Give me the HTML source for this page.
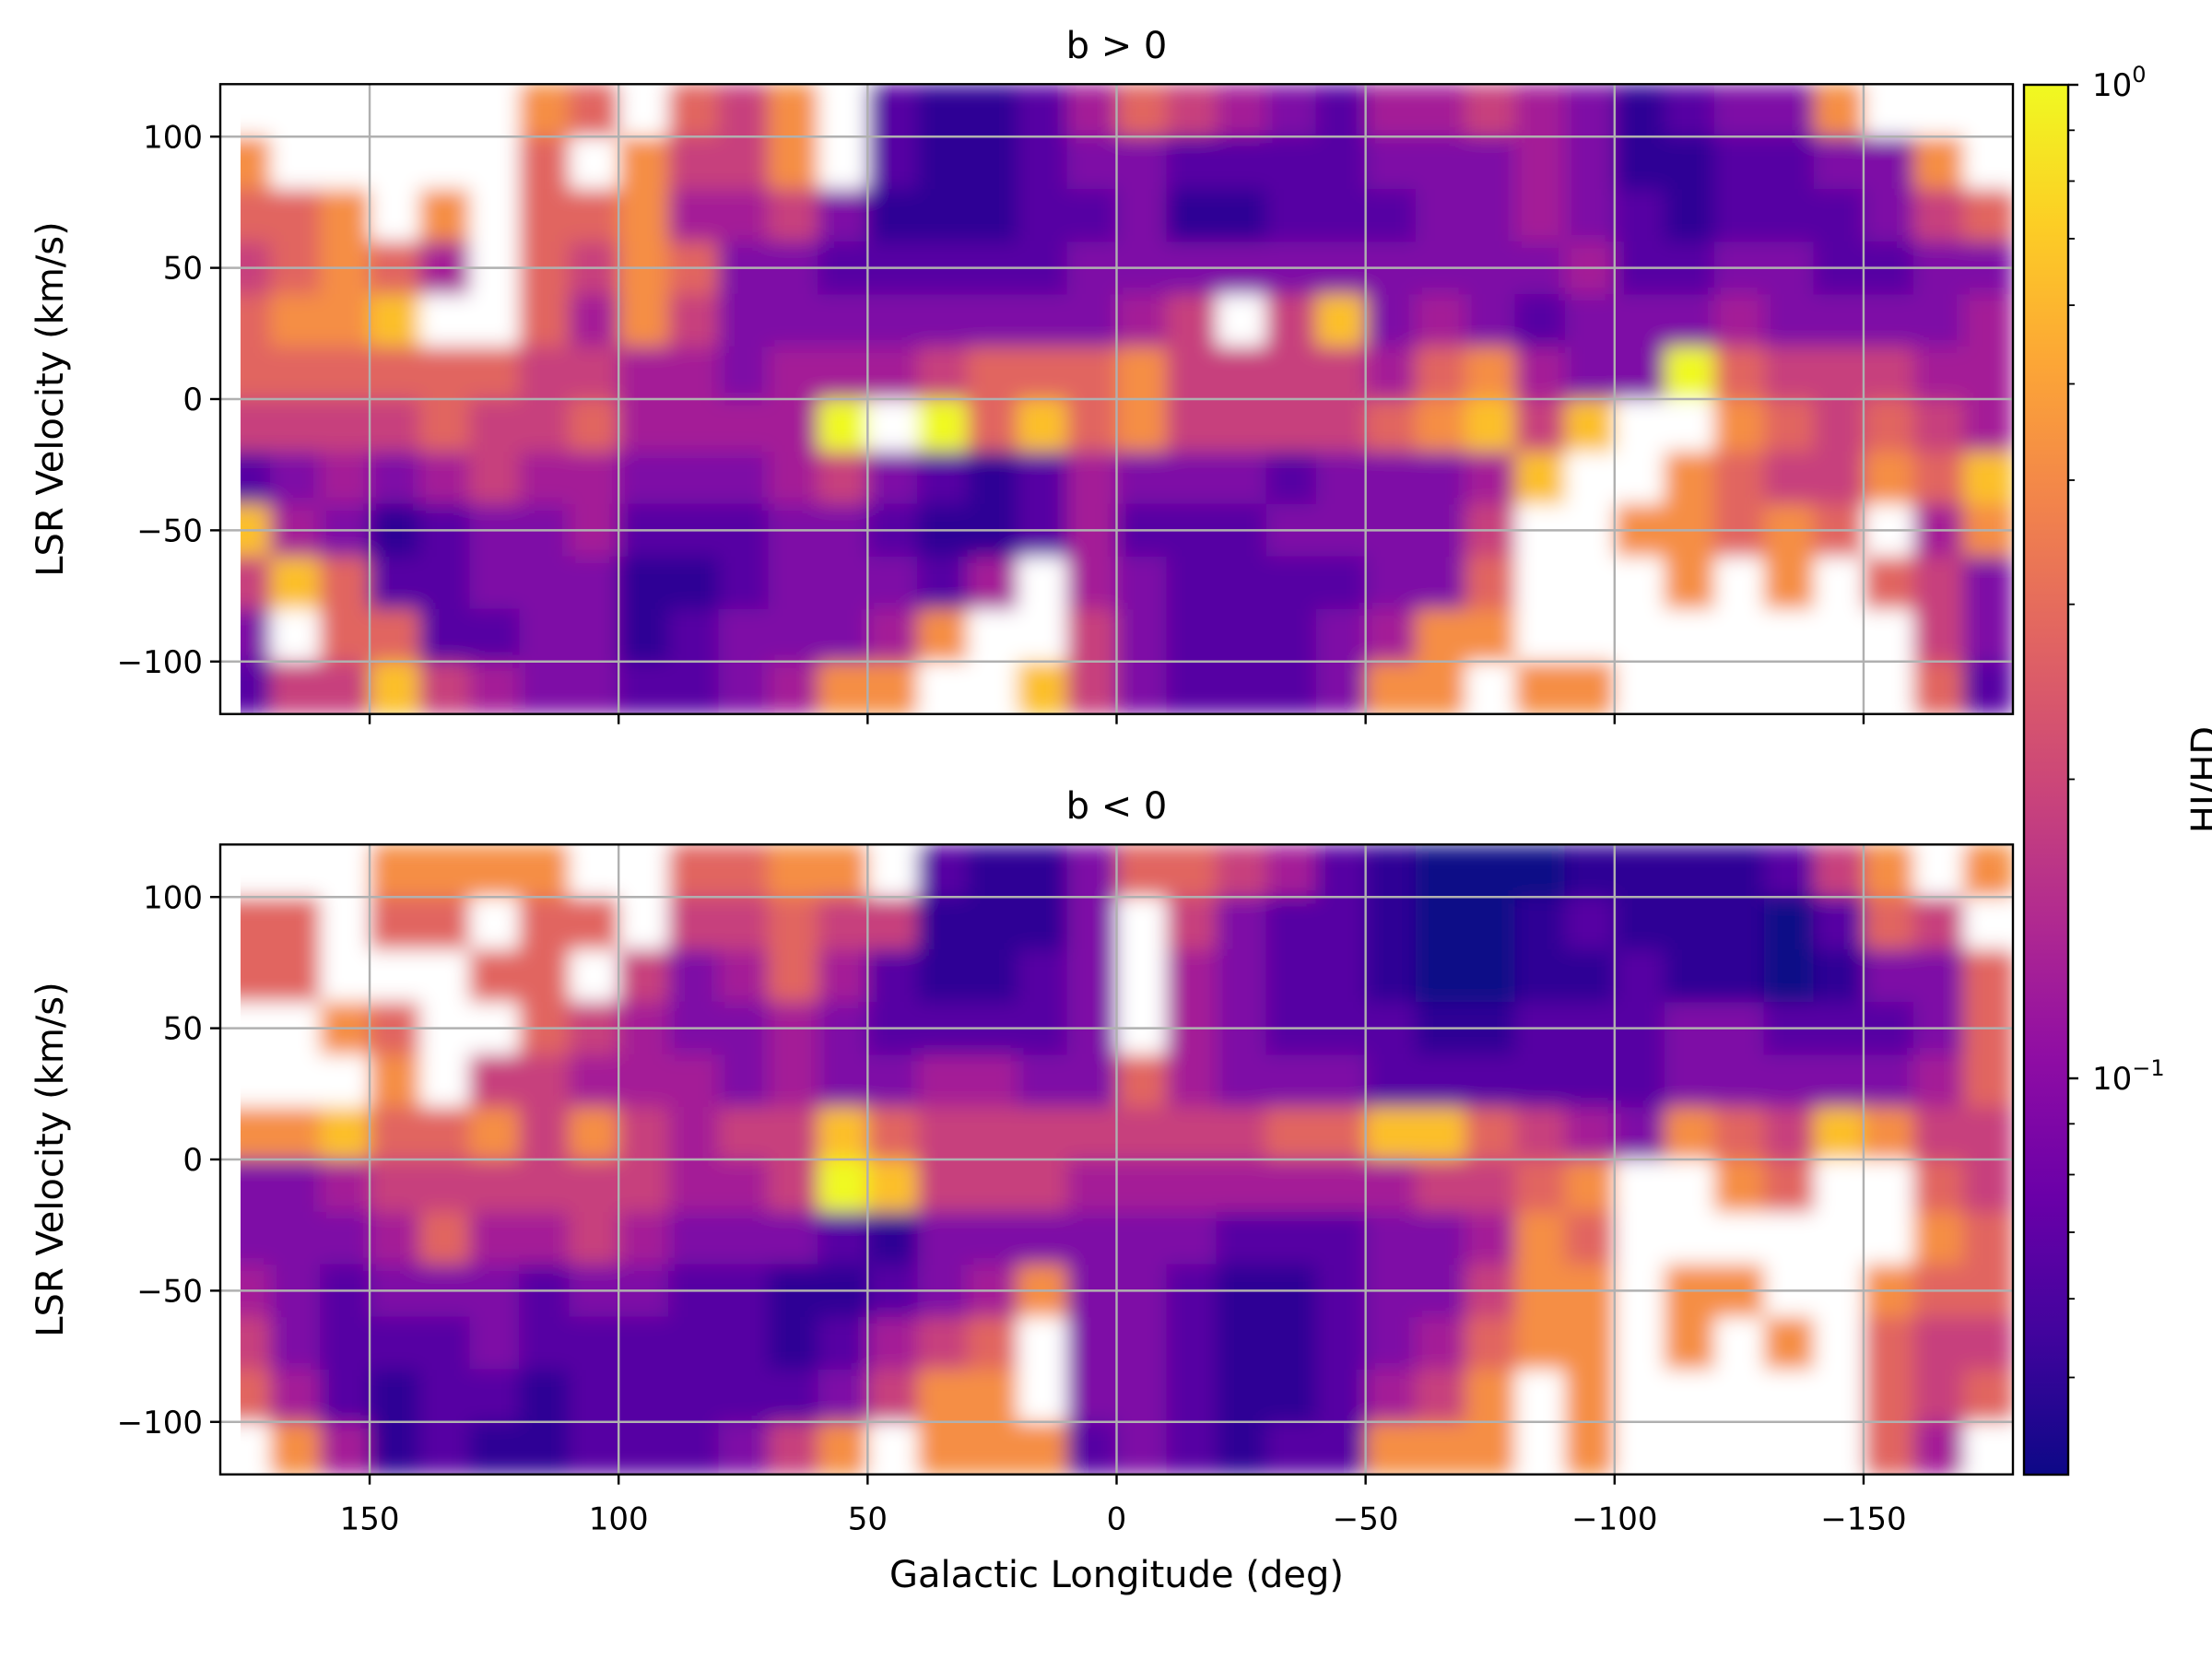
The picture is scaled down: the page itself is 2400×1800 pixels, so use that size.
<!DOCTYPE html>
<html>
<head>
<meta charset="utf-8">
<style>
  html,body{margin:0;padding:0;background:#fff;}
  svg{display:block;}
  text{font-family:"DejaVu Sans","Liberation Sans",sans-serif;fill:#000;}
</style>
</head>
<body>
<svg id="fig" xmlns="http://www.w3.org/2000/svg" width="2400" height="1800" viewBox="0 0 2400 1800">
  <defs>
    <filter id="soft" x="0" y="0" width="1" height="1" filterUnits="objectBoundingBox">
      <feGaussianBlur stdDeviation="11" edgeMode="duplicate"/>
    </filter>
    <clipPath id="clipU"><rect x="239" y="91.3" width="1945" height="683.4"/></clipPath>
    <clipPath id="clipL"><rect x="239" y="916.3" width="1945" height="683.4"/></clipPath>
    <linearGradient id="plasma" x1="0" y1="1" x2="0" y2="0">
      <stop offset="0" stop-color="#0d0887"/>
      <stop offset="0.1" stop-color="#41049d"/>
      <stop offset="0.2" stop-color="#6a00a8"/>
      <stop offset="0.3" stop-color="#8f0da4"/>
      <stop offset="0.4" stop-color="#b12a90"/>
      <stop offset="0.5" stop-color="#cc4778"/>
      <stop offset="0.6" stop-color="#e16462"/>
      <stop offset="0.7" stop-color="#f2844b"/>
      <stop offset="0.8" stop-color="#fca636"/>
      <stop offset="0.9" stop-color="#fcce25"/>
      <stop offset="1" stop-color="#f0f921"/>
    </linearGradient>
  </defs>
  <g id="upper-panel">
    <g clip-path="url(#clipU)"><g id="heatU" filter="url(#soft)"></g>
      <rect x="239" y="91.3" width="22" height="683.4" fill="#fff"/></g>
    <g id="gridU"></g>
    <rect x="239" y="91.3" width="1945" height="683.4" fill="none" stroke="#000" stroke-width="2.4"/>
    <g id="ticksU"></g>
    <text x="1211.5" y="63" font-size="40" text-anchor="middle">b &gt; 0</text>
    <text x="0" y="0" font-size="40" text-anchor="middle" transform="translate(68,433) rotate(-90)">LSR Velocity (km/s)</text>
  </g>
  <g id="lower-panel">
    <g clip-path="url(#clipL)"><g id="heatL" filter="url(#soft)"></g>
      <rect x="239" y="916.3" width="22" height="683.4" fill="#fff"/></g>
    <g id="gridL"></g>
    <rect x="239" y="916.3" width="1945" height="683.4" fill="none" stroke="#000" stroke-width="2.4"/>
    <g id="ticksL"></g>
    <text x="1211.5" y="888" font-size="40" text-anchor="middle">b &lt; 0</text>
    <text x="0" y="0" font-size="40" text-anchor="middle" transform="translate(68,1258) rotate(-90)">LSR Velocity (km/s)</text>
    <text x="1211.5" y="1722" font-size="40" text-anchor="middle">Galactic Longitude (deg)</text>
  </g>
  <g id="colorbar">
    <rect x="2196" y="92" width="48" height="1508" fill="url(#plasma)" stroke="#000" stroke-width="2.4"/>
    <g id="cbTicks"></g>
    <text x="0" y="0" font-size="40" text-anchor="middle" transform="translate(2406,846) rotate(-90)">HI/HD</text>
  </g>
</svg>
<script>
// ---- data ----
const lonBins = [175,165,155,145,135,125,115,105,95,85,75,65,55,45,35,25,15,5,-5,-15,-25,-35,-45,-55,-65,-75,-85,-95,-105,-115,-125,-135,-145,-155,-165,-175];
const velBins = [110,90,70,50,30,10,-10,-30,-50,-70,-90,-110];
// level 0..9 : log10 ratio from -1.4 to 0 ; 10 : saturated (>1, shown white)
const upperRows = [
 [10,10,10,10,10,10,7,6,10,6,5,7,10,2,1,1,2,4, 6,5,4,3,2,4,4,5,4,3,1,2,3,3,7,10,10,10],
 [7,10,10,10,10,10,6,10,7,5,5,7,10,2,1,1,2,3, 3,2,2,2,2,3,3,3,4,3,1,1,2,2,3,3,7,10],
 [6,6,7,10,7,10,6,6,7,4,4,5,3,1,1,1,2,2, 3,1,1,2,2,2,3,3,4,3,2,1,2,2,2,3,5,6],
 [5,6,7,6,4,10,6,5,7,6,3,3,2,2,2,2,2,3, 3,3,3,3,3,3,3,3,3,4,2,2,3,3,2,2,3,3],
 [6,7,7,8,10,10,6,4,7,5,3,3,3,3,3,3,3,3, 4,5,10,5,8,3,4,3,2,3,3,3,4,3,3,3,3,4],
 [6,6,6,6,6,6,5,5,4,4,3,4,4,4,5,6,6,6, 7,5,5,5,5,4,6,7,4,3,3,9,6,5,5,5,4,4],
 [5,5,5,5,6,5,5,6,4,4,4,4,9,10,9,6,8,6, 7,5,5,5,5,6,7,8,5,8,10,10,7,6,5,6,5,4],
 [2,3,4,3,4,5,4,4,3,3,3,4,5,3,2,1,2,4, 3,3,3,2,3,3,3,4,8,10,10,7,6,5,5,7,6,8],
 [8,4,3,1,2,3,3,4,2,2,2,3,3,2,1,1,2,4, 2,2,2,3,3,3,3,5,10,10,7,7,6,7,6,10,4,7],
 [5,8,6,2,2,3,3,3,1,1,2,3,3,3,2,4,10,4, 3,2,2,2,2,3,3,6,10,10,10,7,10,7,10,6,5,3],
 [3,10,6,6,2,2,3,3,1,2,3,3,3,4,7,10,10,5, 3,2,2,2,3,4,7,7,10,10,10,10,10,10,10,10,5,3],
 [2,5,5,8,5,4,3,3,2,2,3,4,7,7,10,10,8,5, 3,2,2,2,3,7,7,10,7,7,10,10,10,10,10,10,6,2]
];
const lowerRows = [
 [10,10,10,7,7,7,7,10,10,6,6,7,7,10,2,1,1,3, 6,6,5,4,2,1,0,0,0,1,1,1,1,2,5,7,10,7],
 [6,6,10,6,6,10,6,6,10,5,5,6,5,5,1,1,1,3, 10,5,3,2,2,1,0,0,1,2,1,1,1,0,2,6,5,10],
 [6,6,10,10,10,6,6,10,5,3,4,6,4,2,1,1,2,3, 10,4,3,2,2,1,0,0,1,1,2,1,1,0,1,3,3,6],
 [10,10,7,6,10,10,6,5,4,3,3,4,3,2,2,2,2,3, 10,4,3,2,2,2,1,1,2,2,2,3,3,2,2,2,3,6],
 [10,10,10,7,10,5,5,4,4,4,3,4,3,3,4,4,3,3, 6,4,3,3,3,2,2,2,2,2,2,3,3,3,3,3,4,6],
 [7,7,8,6,6,7,5,7,5,4,5,5,8,6,5,5,5,5, 5,5,5,6,6,8,8,6,5,4,3,7,6,5,8,7,5,5],
 [3,3,4,5,5,5,5,5,5,4,4,5,9,8,5,5,5,4, 4,4,4,4,4,4,5,5,6,7,10,10,7,6,10,10,6,5],
 [3,3,3,4,6,4,4,5,4,3,3,3,2,1,3,3,3,3, 3,3,2,2,2,3,3,4,7,6,10,10,10,10,10,10,7,6],
 [4,3,2,3,3,3,2,3,3,2,2,1,1,2,3,4,7,3, 3,2,1,1,2,3,3,5,7,7,10,7,7,10,10,7,6,6],
 [5,3,2,2,2,3,2,2,2,2,2,1,2,4,5,6,10,3, 3,2,1,1,2,3,4,6,7,7,10,7,10,7,10,6,5,5],
 [6,4,2,1,2,2,1,2,2,2,2,2,3,5,7,7,10,3, 3,2,1,1,2,4,5,7,10,7,10,10,10,10,10,6,5,6],
 [10,7,4,1,2,1,1,2,2,2,3,5,7,10,7,7,7,2, 3,2,1,2,2,7,7,7,10,7,10,10,10,10,10,6,4,10]
];
const xTicks = [150,100,50,0,-50,-100,-150];
const yTicks = [100,50,0,-50,-100];
const cbMajor = [1,0.1];
const cbMinor = [0.9,0.8,0.7,0.6,0.5,0.4,0.3,0.2,0.09,0.08,0.07,0.06,0.05];

// ---- scales ----
const NS='http://www.w3.org/2000/svg';
function xS(l){return 1211.5 - l*5.403;}
function yU(v){return 433 - v*2.8475;}
function yL(v){return 1258 - v*2.8475;}
function cbY(r){return 92 - Math.log10(r)*1078;}
const pl=[[13,8,135],[65,4,157],[106,0,168],[143,13,164],[177,42,144],[204,71,120],[225,100,98],[242,132,75],[252,166,54],[252,206,37],[240,249,33]];
function color(level){
  if(level>=10) return '#ffffff';
  const t=Math.pow(Math.max(0,Math.min(1,level/9)),1.25)*10; const i=Math.min(9,Math.floor(t)); const f=t-i;
  const c=pl[i].map((a,k)=>Math.round(a+(pl[i+1][k]-a)*f));
  return 'rgb('+c.join(',')+')';
}
function mk(tag,attrs,parent){const e=document.createElementNS(NS,tag);for(const k in attrs)e.setAttribute(k,attrs[k]);parent.appendChild(e);return e;}

function drawHeat(gid,rows,yf,prefix){
  const g=document.getElementById(gid);
  rows.forEach((row,r)=>{
    row.forEach((lev,c)=>{
      const l=lonBins[c], v=velBins[r];
      const x0=xS(l+5), x1=xS(l-5), y0=yf(v+10), y1=yf(v-10);
      const e=mk('rect',{x:x0,y:y0,width:(x1-x0+0.6),height:(y1-y0+0.6),fill:color(lev)},g);
      
      
    });
  });
}
drawHeat('heatU',upperRows,yU,'upper');
drawHeat('heatL',lowerRows,yL,'lower');

function drawAxes(gridId,tickId,yf,top,bottom,showX,prefix){
  const gg=document.getElementById(gridId), tg=document.getElementById(tickId);
  xTicks.forEach(t=>{
    const x=xS(t);
    const gl=mk('line',{x1:x,x2:x,y1:top,y2:bottom,stroke:'#b0b0b0','stroke-width':2.4},gg);
    
    
    const tk=mk('line',{x1:x,x2:x,y1:bottom,y2:bottom+11,stroke:'#000','stroke-width':2.4},tg);
    
    
    if(showX){
      const tx=mk('text',{x:x,y:bottom+60,'font-size':34,'text-anchor':'middle'},tg);
      tx.textContent=(t<0?'\u2212'+(-t):String(t));
      
      
    }
  });
  yTicks.forEach(t=>{
    const y=yf(t);
    const gl=mk('line',{x1:239,x2:2184,y1:y,y2:y,stroke:'#b0b0b0','stroke-width':2.4},gg);
    
    
    const tk=mk('line',{x1:228,x2:239,y1:y,y2:y,stroke:'#000','stroke-width':2.4},tg);
    
    
    const tx=mk('text',{x:220,y:y+12,'font-size':34,'text-anchor':'end'},tg);
    tx.textContent=(t<0?'\u2212'+(-t):String(t));
    
    
  });
}
drawAxes('gridU','ticksU',yU,91.3,774.7,false,'upper');
drawAxes('gridL','ticksL',yL,916.3,1599.7,true,'lower');

(function(){
  const g=document.getElementById('cbTicks');
  cbMinor.forEach(r=>{
    const y=cbY(r);
    const e=mk('line',{x1:2244,x2:2251,y1:y,y2:y,stroke:'#000','stroke-width':1.8},g);
    
    
  });
  cbMajor.forEach(r=>{
    const y=cbY(r);
    const e=mk('line',{x1:2244,x2:2255,y1:y,y2:y,stroke:'#000','stroke-width':2.4},g);
    
    
    const tx=mk('text',{x:2270,y:y+12,'font-size':34},g);
    
    
    const exp=Math.round(Math.log10(r));
    tx.appendChild(document.createTextNode('10'));
    const sp=mk('tspan',{dy:-15,'font-size':24},tx);
    sp.textContent=(exp<0?'\u2212'+(-exp):String(exp));
  });
})();
</script>
</body>
</html>
